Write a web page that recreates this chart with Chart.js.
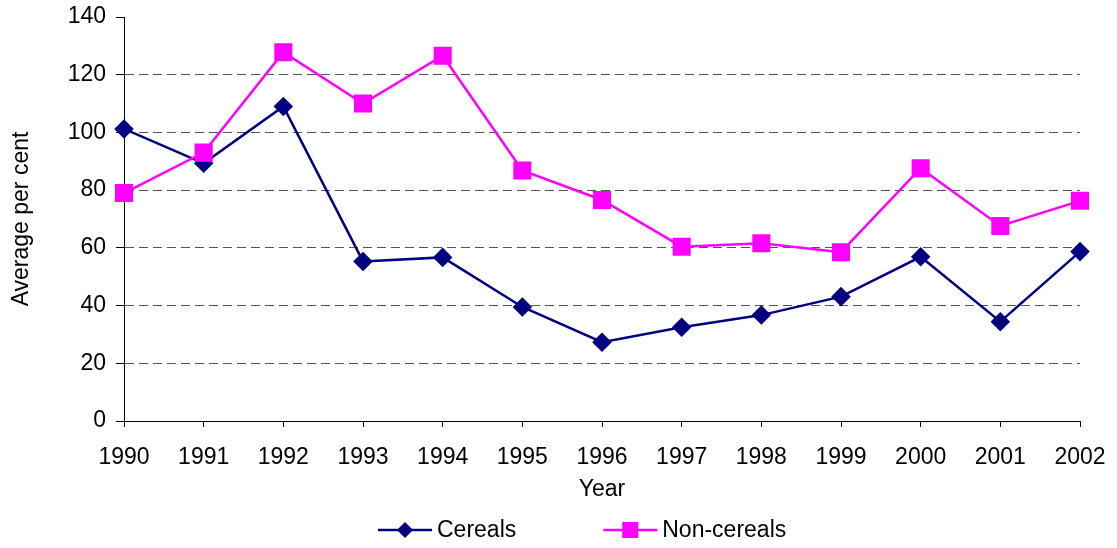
<!DOCTYPE html>
<html>
<head>
<meta charset="utf-8">
<script src="https://cdn.jsdelivr.net/npm/chart.js@4"></script>
<style>
  html, body { margin: 0; padding: 0; background: #fff; }
  #wrap { width: 1117px; height: 548px; }
</style>
</head>
<body>
<div id="wrap"><canvas id="chart"></canvas></div>
<script>
var years = ['1990','1991','1992','1993','1994','1995','1996','1997','1998','1999','2000','2001','2002'];
var cereals = [101.2, 89.3, 109, 55.3, 56.7, 39.5, 27.3, 32.5, 36.7, 43.1, 56.9, 34.4, 58.7];
var nonCereals = [79, 93, 127.8, 110, 126.6, 86.8, 76.6, 60.4, 61.6, 58.5, 87.6, 67.6, 76.3];
var yTicks = [0, 20, 40, 60, 80, 100, 120, 140];

var FONT = "'Liberation Sans', Arial, sans-serif";
Chart.defaults.font.family = FONT;
Chart.defaults.font.size = 23;
Chart.defaults.color = '#000';

// legend in the old spreadsheet style: short line with the marker in the middle
var lineLegend = {
  id: 'lineLegend',
  afterDraw: function(chart){
    var c = chart.ctx;
    var y = 530;
    var x = 378;
    c.save();
    c.font = '23px ' + FONT;
    c.textBaseline = 'middle';
    chart.data.datasets.forEach(function(ds){
      c.strokeStyle = ds.borderColor;
      c.lineWidth = 2.5;
      c.beginPath();
      c.moveTo(x, y);
      c.lineTo(x + 54, y);
      c.stroke();
      c.fillStyle = ds.pointBackgroundColor;
      var mx = x + 27;
      if(ds.pointStyle === 'rect'){
        c.fillRect(mx - 8, y - 8, 16, 16);
      } else {
        c.beginPath();
        c.moveTo(mx, y - 8);
        c.lineTo(mx + 8, y);
        c.lineTo(mx, y + 8);
        c.lineTo(mx - 8, y);
        c.closePath();
        c.fill();
      }
      c.fillStyle = '#000';
      c.fillText(ds.label, x + 59, y + 1);
      x += 59 + c.measureText(ds.label).width + 87;
    });
    c.restore();
  }
};

new Chart(document.getElementById('chart'), {
  type: 'line',
  data: {
    labels: years,
    datasets: [{
      label: 'Cereals',
      data: cereals,
      borderColor: '#000080',
      backgroundColor: '#000080',
      pointBackgroundColor: '#000080',
      pointBorderColor: '#000080',
      borderWidth: 2.5,
      pointStyle: 'rectRot',
      pointRadius: 8,
      pointHoverRadius: 8,
      tension: 0,
      clip: false,
      order: 1
    }, {
      label: 'Non-cereals',
      data: nonCereals,
      borderColor: '#FF00FF',
      backgroundColor: '#FF00FF',
      pointBackgroundColor: '#FF00FF',
      pointBorderColor: '#FF00FF',
      borderWidth: 2.5,
      pointStyle: 'rect',
      pointRadius: 11,
      pointHoverRadius: 11,
      tension: 0,
      clip: false,
      order: 0
    }]
  },
  options: {
    responsive: true,
    maintainAspectRatio: false,
    animation: false,
    layout: { padding: { left: 0, right: 37, top: 17, bottom: 45 } },
    plugins: {
      legend: { display: false },
      tooltip: { enabled: false }
    },
    scales: {
      x: {
        offset: false,
        afterFit: function(s){ s.height = 82; s.paddingLeft = 0; s.paddingRight = 0; },
        grid: { drawOnChartArea: false, drawTicks: true, tickLength: 6, tickColor: '#000' },
        border: { color: '#000', width: 1 },
        ticks: { padding: 17, maxRotation: 0, autoSkip: false, font: { size: 23 } },
        title: { display: true, text: 'Year', font: { size: 23 }, padding: { top: 0, bottom: 0 } }
      },
      y: {
        min: 0,
        max: 140,
        afterFit: function(s){ s.width = 124; s.paddingTop = 0; s.paddingBottom = 0; },
        afterBuildTicks: function(s){ s.ticks = yTicks.map(function(v){ return { value: v }; }); },
        grid: {
          color: function(ctx){
            var v = ctx.tick && ctx.tick.value;
            return (v === 0 || v === 140) ? 'rgba(0,0,0,0)' : '#555555';
          },
          lineWidth: 1,
          tickLength: 8,
          tickColor: '#000'
        },
        border: { color: '#000', width: 1, dash: [9, 5] },
        ticks: { padding: 10, font: { size: 23 } },
        title: { display: true, text: 'Average per cent', font: { size: 23 }, padding: { top: 8, bottom: 0 } }
      }
    }
  },
  plugins: [lineLegend]
});
</script>
</body>
</html>
